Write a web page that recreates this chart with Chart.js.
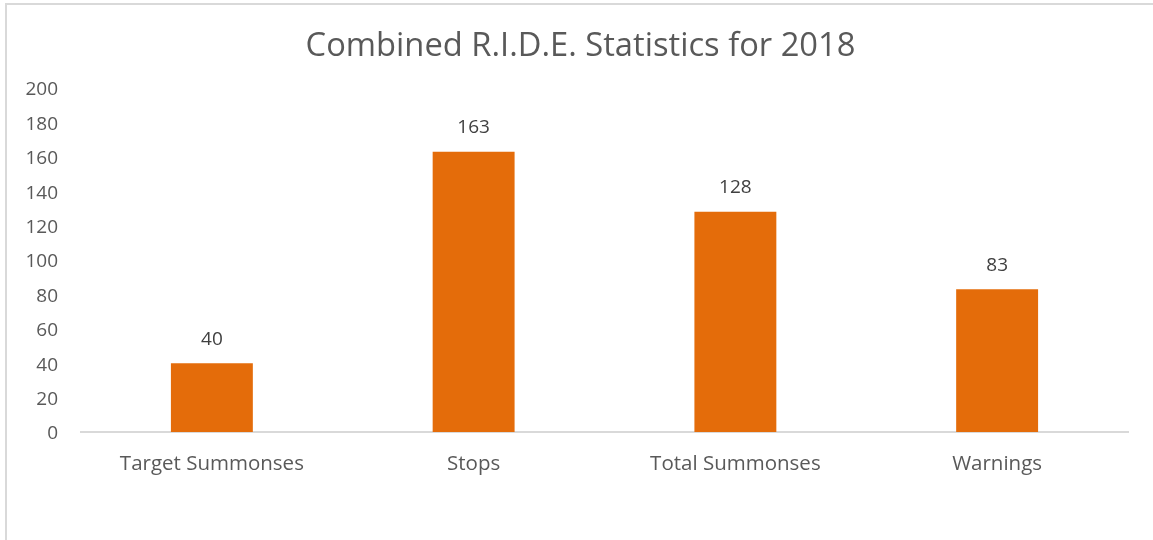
<!DOCTYPE html>
<html>
<head>
<meta charset="utf-8">
<script src="https://cdn.jsdelivr.net/npm/chart.js@4"></script>
<style>
  html, body { margin: 0; padding: 0; background: #fff; }
  #frame { position: absolute; left: 5px; top: 3px; width: 1300px; height: 700px;
           border-left: 2px solid #d9d9d9; border-top: 2px solid #d9d9d9; }
  #wrap { position: absolute; left: 0; top: 0; width: 1153px; height: 540px; }
</style>
</head>
<body>
<div id="frame"></div>
<div id="wrap"><canvas id="myChart" width="1153" height="540"></canvas></div>
<script>
// values
var categories = ['Target Summonses', 'Stops', 'Total Summonses', 'Warnings'];
var counts = [40, 163, 128, 83];
var yTicks = [0, 20, 40, 60, 80, 100, 120, 140, 160, 180, 200];
var chartTitle = 'Combined R.I.D.E. Statistics for 2018';

var textColor = '#595959';
var fontName = '"Open Sans", Lato, sans-serif';

// title and the numbers above the bars
var barLabels = {
    id: 'barLabels',
    afterDatasetsDraw: function(chart){
        var ctx = chart.ctx;
        var meta = chart.getDatasetMeta(0);
        ctx.save();
        ctx.textAlign = 'center';
        ctx.textBaseline = 'middle';
        ctx.font = '32.7px ' + fontName;
        ctx.fillStyle = textColor;
        ctx.fillText(chartTitle, 580.5, 47);
        ctx.font = '19px ' + fontName;
        ctx.fillStyle = '#404040';
        meta.data.forEach(function(bar, i){
            ctx.fillText(String(counts[i]), bar.x, bar.y - 24);
        });
        ctx.restore();
    }
};

var ctx = document.getElementById('myChart').getContext('2d');
var myChart = new Chart(ctx, {
    type: 'bar',
    data: {
        labels: categories,
        datasets: [{
            label: 'Combined',
            data: counts,
            backgroundColor: '#E46C0A',
            borderWidth: 0,
            categoryPercentage: 1,
            barPercentage: 0.313
        }]
    },
    options: {
        responsive: false,
        animation: false,
        layout: { padding: { left: 10, right: 25, top: 88, bottom: 0 } },
        plugins: {
            legend: { display: false },
            tooltip: { enabled: false },
            title: { display: false }
        },
        scales: {
            x: {
                grid: { display: false, drawTicks: false },
                border: { display: true, color: '#d9d9d9', width: 2 },
                ticks: { color: textColor, font: { family: fontName, size: 20.5 }, padding: 20 },
                afterFit: function(scale){ scale.height = 108; }
            },
            y: {
                min: 0,
                max: 200,
                grid: { display: false, drawTicks: false },
                border: { display: false },
                afterBuildTicks: function(scale){
                    scale.ticks = yTicks.map(function(v){ return { value: v }; });
                },
                ticks: { color: textColor, font: { family: fontName, size: 19 }, padding: 23, labelOffset: 2 },
                afterFit: function(scale){ scale.width = 71; }
            }
        }
    },
    plugins: [barLabels]
});
</script>
</body>
</html>
